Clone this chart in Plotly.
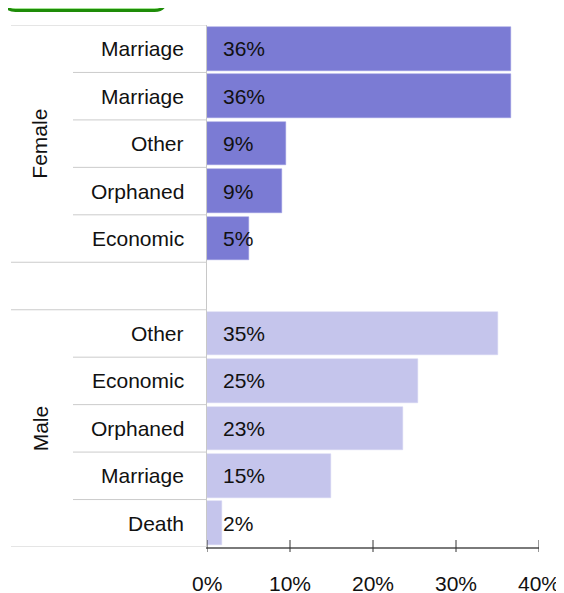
import plotly.graph_objects as go

# ---------------- data ----------------
group_names = ["Female", "Male"]
female_cats = ["Marriage", "Marriage", "Other", "Orphaned", "Economic"]
female_vals = [36.6, 36.6, 9.5, 9.0, 5.0]
female_labels = ["36%", "36%", "9%", "9%", "5%"]
male_cats = ["Other", "Economic", "Orphaned", "Marriage", "Death"]
male_vals = [35.0, 25.4, 23.6, 14.9, 1.8]
male_labels = ["35%", "25%", "23%", "15%", "2%"]
tick_vals = [0, 10, 20, 30, 40]
tick_text = ["0%", "10%", "20%", "30%", "40%"]

# ---------------- geometry ----------------
OFF = 8  # default page body margin
WIDTH, HEIGHT = 564 - OFF, 593 - OFF
L, R, T, B = 207 - OFF, 539 - OFF, 25 - OFF, 547 - OFF
PW, PH = R - L, B - T
FONT = "Liberation Sans, Arial, sans-serif"
FS = 21
FEMALE_COLOR = "#7b7bd4"
MALE_COLOR = "#c5c5ec"
GRID = "#cbcbcb"


def xp(px):
    """reference page pixel -> paper x"""
    return (px - OFF - L) / PW


def yp(py):
    """reference page pixel -> paper y"""
    return (B - (py - OFF)) / PH


female_pos = list(range(len(female_cats)))
male_pos = [len(female_cats) + 1 + i for i in range(len(male_cats))]
n_rows = len(female_cats) + 1 + len(male_cats)

fig = go.Figure()
fig.add_trace(go.Bar(
    x=female_vals, y=female_pos, orientation="h", width=0.92,
    marker=dict(color=FEMALE_COLOR, line=dict(color="#9a9ae0", width=0.5)),
    hoverinfo="skip", showlegend=False))
fig.add_trace(go.Bar(
    x=male_vals, y=male_pos, orientation="h", width=0.92,
    marker=dict(color=MALE_COLOR, line=dict(color="#d4d4f2", width=0.5)),
    hoverinfo="skip", showlegend=False))

annotations = []
shapes = []

# value labels and category labels
for pos, cat, lab in list(zip(female_pos, female_cats, female_labels)) + \
        list(zip(male_pos, male_cats, male_labels)):
    annotations.append(dict(x=0, y=pos, xref="x", yref="y", text=lab,
                            showarrow=False, xanchor="left", yanchor="middle",
                            xshift=14, font=dict(family=FONT, size=FS, color="#111")))
    annotations.append(dict(x=xp(186), y=pos, xref="paper", yref="y", text=cat,
                            showarrow=False, xanchor="right", yanchor="middle",
                            font=dict(family=FONT, size=FS, color="#111")))

# group labels
for name, poss in zip(group_names, [female_pos, male_pos]):
    annotations.append(dict(x=xp(40), y=(poss[0] + poss[-1]) / 2, xref="paper", yref="y",
                            text=name, showarrow=False, textangle=-90,
                            xanchor="center", yanchor="middle",
                            font=dict(family=FONT, size=FS, color="#111")))

# separators between subcategories
for poss in [female_pos, male_pos]:
    for p in poss[:-1]:
        shapes.append(dict(type="line", xref="paper", yref="y",
                           x0=xp(73), x1=0, y0=p + 0.5, y1=p + 0.5,
                           line=dict(color=GRID, width=1)))
# group boundaries
for yb in [female_pos[0] - 0.5, female_pos[-1] + 0.5, male_pos[0] - 0.5, male_pos[-1] + 0.5]:
    shapes.append(dict(type="line", xref="paper", yref="y",
                       x0=xp(11), x1=0, y0=yb, y1=yb,
                       line=dict(color=GRID, width=1.2)))

# tick marks crossing the axis line
for v in tick_vals:
    shapes.append(dict(type="line", xref="x", yref="paper", x0=v, x1=v,
                       y0=yp(552), y1=yp(540), line=dict(color="#333", width=1)))
for v, t in zip(tick_vals, tick_text):
    annotations.append(dict(x=v, y=yp(583), xref="x", yref="paper", text=t,
                            showarrow=False, xanchor="center", yanchor="middle",
                            font=dict(family=FONT, size=FS, color="#111")))

# green rounded box at top-left (partially cut off)
x0, x1, ytop, ybot, r = 4.5, 165.5, -20, 10.5, 11
path = (f"M {xp(x0)},{yp(ytop)} L {xp(x0)},{yp(ybot - r)} "
        f"Q {xp(x0)},{yp(ybot)} {xp(x0 + r)},{yp(ybot)} "
        f"L {xp(x1 - r)},{yp(ybot)} "
        f"Q {xp(x1)},{yp(ybot)} {xp(x1)},{yp(ybot - r)} "
        f"L {xp(x1)},{yp(ytop)} Z")
shapes.append(dict(type="path", xref="paper", yref="paper", path=path,
                   fillcolor="#a2e592", line=dict(color="#1e8c08", width=3)))

fig.update_layout(
    width=WIDTH, height=HEIGHT, autosize=False,
    margin=dict(l=L, r=WIDTH - R, t=T, b=HEIGHT - B, pad=0),
    paper_bgcolor="white", plot_bgcolor="white",
    bargap=0,
    xaxis=dict(range=[0, 40], tickvals=tick_vals, showticklabels=False,
               ticks="", showgrid=False, zeroline=False,
               showline=True, linecolor="#7a7a7a", linewidth=2, fixedrange=True),
    yaxis=dict(range=[n_rows - 0.5, -0.5], showticklabels=False, ticks="",
               showgrid=False, zeroline=False, showline=True,
               linecolor="#c8c8c8", linewidth=1, fixedrange=True),
    annotations=annotations, shapes=shapes,
    font=dict(family=FONT),
)

fig.write_html("out.html")
